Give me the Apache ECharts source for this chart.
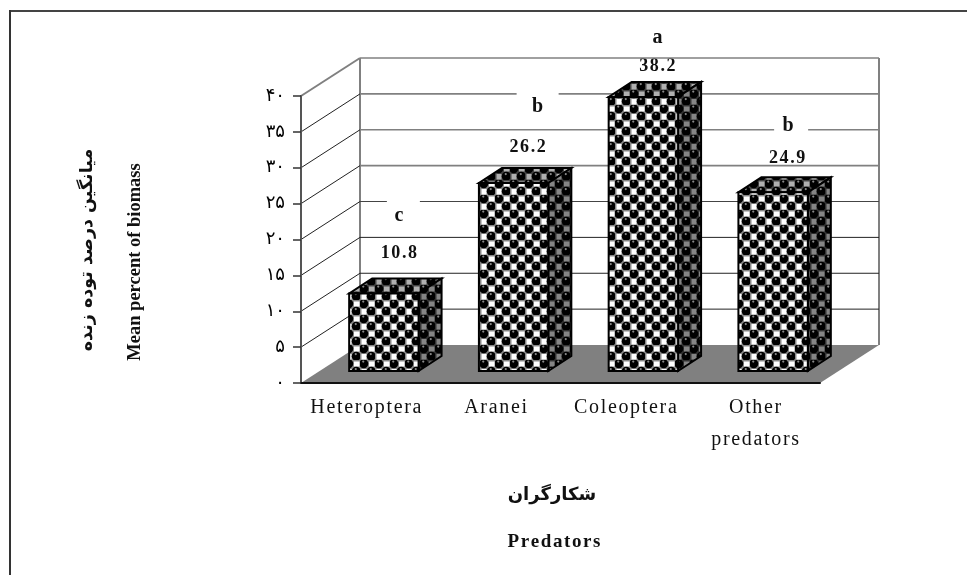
<!DOCTYPE html>
<html lang="fa"><head><meta charset="utf-8">
<style>html,body{margin:0;padding:0;background:#fff}#c{width:967px;height:575px}</style>
<script src="https://cdn.jsdelivr.net/npm/echarts@6/dist/echarts.min.js"></script>
</head><body><div id="c"></div>
<script>
const categories = ['Heteroptera', 'Aranei', 'Coleoptera', 'Other\npredators'];
const values = [10.8, 26.2, 38.2, 24.9];
const letters = ['c', 'b', 'a', 'b'];
const tickValues = [0, 5, 10, 15, 20, 25, 30, 35, 40];
const tickLabels = ['۰', '۵', '۱۰', '۱۵', '۲۰', '۲۵', '۳۰', '۳۵', '۴۰'];
const yTitleFa = 'میانگین درصد توده زنده';
const yTitleEn = 'Mean percent of biomass';
const xTitleFa = 'شکارگران';
const xTitleEn = 'Predators';

// styling / hand placement (pixels)
const WALL = [59, -38], BAR_OFF = [18, -12], BAR_D = [23, -15];
const valueOff = [[15, -40], [14, -36], [14, -31], [14, -34]];
const letterOff = [[15, -78], [24, -76], [14, -59], [15, -67]];
const gapBox = [[-12, -17, 33, 8], [-21, -17, 42, 7], null, [-14, 2, 34, 7]];

// the reference text is letter-spaced: put a hair space between glyphs
const spaced = s => s.split('\n').map(l => Array.from(l).join('\u200A')).join('\n');

function tile(bg, sq) {
  const n = 15, c = document.createElement('canvas');
  c.width = c.height = n;
  const g = c.getContext('2d');
  g.fillStyle = bg; g.fillRect(0, 0, n, n);
  g.fillStyle = sq;
  g.fillRect(9, 1.5, 5.5, 5); g.fillRect(1.5, 9, 5, 5.5);
  [[3.75, 3.75], [11.25, 11.25]].forEach(([x, y]) => {
    g.fillStyle = '#000';
    g.beginPath(); g.arc(x, y, 4.5, 0, Math.PI * 2); g.fill();
    g.fillStyle = '#8a8a8a';
    g.beginPath(); g.arc(x - 0.5, y - 2.2, 1.1, 0, Math.PI * 2); g.fill();
  });
  return { image: c, repeat: 'repeat' };
}
const frontFill = tile('#888', '#fff'), topFill = tile('#444', '#b0b0b0'), sideFill = tile('#333', '#858585');

const serif = '"Liberation Serif", serif';
const chart = echarts.init(document.getElementById('c'), null, { renderer: 'canvas' });

function poly(points, style) { return { type: 'polygon', shape: { points }, style }; }
function line(a, b, stroke, lineWidth) {
  return { type: 'line', shape: { x1: a[0], y1: a[1], x2: b[0], y2: b[1] }, style: { stroke, lineWidth, fill: null } };
}

chart.setOption({
  animation: false,
  backgroundColor: '#fff',
  grid: { left: 301, top: 96, width: 519, height: 287, containLabel: false },
  xAxis: {
    type: 'category', data: categories,
    axisLine: { lineStyle: { color: '#111', width: 2 } },
    axisTick: { length: 7, lineStyle: { color: '#555', width: 1.5 } },
    axisLabel: { color: '#111', fontFamily: serif, fontSize: 20, lineHeight: 32, margin: 9, interval: 0, formatter: spaced },
    z: 6
  },
  yAxis: {
    type: 'value', min: 0, max: 40, interval: 5,
    splitLine: { show: false },
    axisLine: { show: true, lineStyle: { color: '#555', width: 2 } },
    axisTick: { show: true, length: 8, lineStyle: { color: '#333', width: 1.5 } },
    axisLabel: { color: '#000', fontFamily: '"DejaVu Sans"', fontSize: 18, margin: 16,
      formatter: v => tickLabels[tickValues.indexOf(v)] },
    z: 6
  },
  series: [
    { // value labels sit behind the gridlines
      type: 'custom', z: 1, data: values.map((v, i) => [i, v]),
      renderItem(p, api) {
        const i = api.value(0), c = api.coord([i, api.value(1)]), o = valueOff[p.dataIndex];
        return { type: 'text', style: { x: c[0] + BAR_OFF[0] + o[0], y: c[1] + BAR_OFF[1] + o[1], text: spaced(api.value(1).toFixed(1)),
          font: 'bold 18px ' + serif, fill: '#111', align: 'center', verticalAlign: 'middle' } };
      }
    },
    { // walls and floor
      type: 'custom', z: 2, data: tickValues.map(v => [0, v]),
      renderItem(p, api) {
        const v = api.value(1), cs = p.coordSys, y = api.coord([0, v])[1];
        const L = [cs.x, y], BL = [cs.x + WALL[0], y + WALL[1]], BR = [cs.x + cs.width + WALL[0], y + WALL[1]], R = [cs.x + cs.width, y];
        const children = [];
        if (v === 0) {
          children.push(poly([L, R, BR, BL], { fill: '#808080' }));
          children.push(line(BL, [BL[0], BL[1] - cs.height], '#808080', 2));
          children.push(line(BR, [BR[0], BR[1] - cs.height], '#808080', 2));
        } else {
          const top = v === 40;
          const col = v >= 25 ? '#808080' : (v === 20 ? '#444' : '#222');
          children.push(line(L, BL, top ? '#808080' : '#222', top ? 2 : 1));
          children.push(line(BL, BR, col, v >= 25 ? 1.6 : 1));
        }
        return { type: 'group', children };
      }
    },
    { // 3D bars
      type: 'custom', z: 3, data: values.map((v, i) => [i, v]),
      renderItem(p, api) {
        const i = api.value(0), v = api.value(1);
        const w = api.size([1, 0])[0] * 0.535;
        const base = api.coord([i, 0]), top = api.coord([i, v]);
        const x0 = base[0] + BAR_OFF[0] - w / 2, x1 = x0 + w, yb = base[1] + BAR_OFF[1], yt = top[1] + BAR_OFF[1];
        const [dx, dy] = BAR_D, edge = { stroke: '#000', lineWidth: 2, lineJoin: 'miter' };
        return { type: 'group', children: [
          poly([[x0, yt], [x1, yt], [x1 + dx, yt + dy], [x0 + dx, yt + dy]], Object.assign({ fill: topFill }, edge)),
          poly([[x1, yt], [x1 + dx, yt + dy], [x1 + dx, yb + dy], [x1, yb]], Object.assign({ fill: sideFill }, edge)),
          poly([[x0, yt], [x1, yt], [x1, yb], [x0, yb]], Object.assign({ fill: frontFill }, edge))
        ] };
      }
    },
    { // significance letters with the white patch they cut out of the gridlines
      type: 'custom', z: 4, data: values.map((v, i) => [i, v]),
      renderItem(p, api) {
        const k = p.dataIndex, c = api.coord([api.value(0), api.value(1)]), o = letterOff[k], b = gapBox[k];
        const x = c[0] + BAR_OFF[0] + o[0], y = c[1] + BAR_OFF[1] + o[1], children = [];
        if (b) children.push({ type: 'rect', shape: { x: x + b[0], y: y + b[1], width: b[2], height: b[3] }, style: { fill: '#fff' } });
        children.push({ type: 'text', style: { x, y, text: letters[k], font: 'bold 20px ' + serif, fill: '#111', align: 'center', verticalAlign: 'middle' } });
        return { type: 'group', children };
      }
    }
  ],
  graphic: { elements: [
    { type: 'line', silent: true, z: 10, shape: { x1: 10, y1: 11, x2: 967, y2: 11 }, style: { stroke: '#444', lineWidth: 2 } },
    { type: 'line', silent: true, z: 10, shape: { x1: 10, y1: 10, x2: 10, y2: 575 }, style: { stroke: '#333', lineWidth: 2 } },
    { type: 'text', x: 87, y: 250, rotation: Math.PI / 2, style: { text: yTitleFa, font: 'bold 17.5px "DejaVu Sans"', fill: '#111', align: 'center', verticalAlign: 'middle' } },
    { type: 'text', x: 135, y: 262, rotation: Math.PI / 2, style: { text: yTitleEn, font: 'bold 18.5px ' + serif, fill: '#111', align: 'center', verticalAlign: 'middle' } },
    { type: 'text', x: 552, y: 495, style: { text: xTitleFa, font: 'bold 18px "DejaVu Sans"', fill: '#111', align: 'center', verticalAlign: 'middle' } },
    { type: 'text', x: 554, y: 542, style: { text: spaced(xTitleEn), font: 'bold 19px ' + serif, fill: '#111', align: 'center', verticalAlign: 'middle' } }
  ] }
});
</script></body></html>
